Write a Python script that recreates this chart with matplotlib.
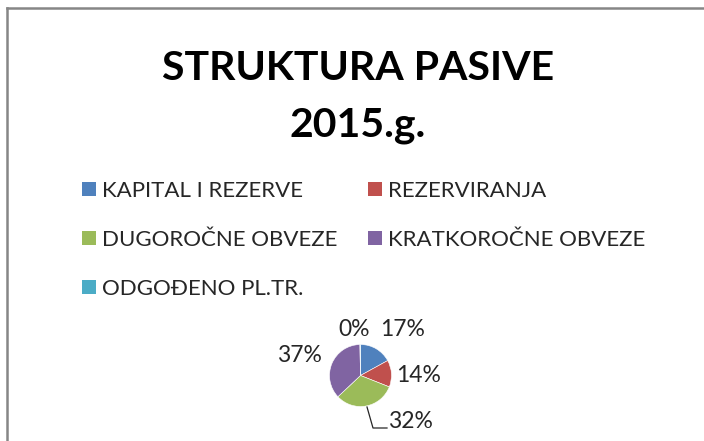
import matplotlib.pyplot as plt
import matplotlib.patches as mpatches
from matplotlib.lines import Line2D

categories = ["KAPITAL I REZERVE", "REZERVIRANJA", "DUGOROČNE OBVEZE",
              "KRATKOROČNE OBVEZE", "ODGOĐENO PL.TR."]
shares = [17.0, 14.0, 32.0, 36.7, 0.3]
colors = ["#4F81BD", "#C0504D", "#9BBB59", "#8064A2", "#4BACC6"]
title_lines = ["STRUKTURA PASIVE", "2015.g."]

plt.rcParams['font.family'] = ['Lato', 'DejaVu Sans']

W, H = 704, 441
fig = plt.figure(figsize=(W / 100, H / 100), dpi=100)

# chart border (top and left visible, cut at right/bottom)
fig.add_artist(Line2D([6.5 / W, 6.5 / W], [0, 1 - 8 / H], color="#868686", lw=1.8,
                      transform=fig.transFigure))
fig.add_artist(Line2D([6.5 / W, 1], [1 - 8 / H, 1 - 8 / H], color="#868686", lw=1.8,
                      transform=fig.transFigure))
# descender of text above the chart, cut at the top
fig.text(151 / W, 1 + 9 / H, "g", fontsize=15, ha="center", va="baseline", color="black")

# title, two lines
fig.text(358 / W, 1 - 80 / H, title_lines[0], fontsize=29.5, fontweight="bold",
         ha="center", va="baseline")
fig.text(358 / W, 1 - 136 / H, title_lines[1], fontsize=29.5, fontweight="bold",
         ha="center", va="baseline")

# pie
cx, cy, r = 360.5, 375.5, 31
ax = fig.add_axes([(cx - r) / W, 1 - (cy + r) / H, 2 * r / W, 2 * r / H])
wedges, _ = ax.pie(shares, colors=colors, startangle=90, counterclock=False,
                   wedgeprops=dict(edgecolor="white", linewidth=0.4))
ax.set_xlim(-1, 1)
ax.set_ylim(-1, 1)
ax.set_aspect("auto")
ax.axis("off")

# data labels (pixel positions)
label_pos = [(403, 329), (419, 376), (410, 422), (299, 356), (354, 329)]
for v, (px, py) in zip(shares, label_pos):
    fig.text(px / W, 1 - py / H, f"{round(v):.0f}%", fontsize=16.5, ha="center",
             va="center", color="#262626")
# leader line for 32%
fig.add_artist(Line2D([367 / W, 373 / W, 387 / W],
                      [1 - 407 / H, 1 - 428 / H, 1 - 428 / H],
                      color="#262626", lw=0.9, transform=fig.transFigure))

# legend in row-major order
order = [0, 2, 4, 1, 3]
handles = [mpatches.Patch(facecolor=colors[i], edgecolor="none") for i in order]
labels = [categories[i] for i in order]
fig.legend(handles, labels, ncol=2, loc="upper left",
           bbox_to_anchor=(82 / W, 1 - 181 / H), frameon=False, fontsize=16,
           handlelength=0.65, handleheight=0.6, handletextpad=0.27,
           columnspacing=1.35, labelspacing=1.3, borderaxespad=0, borderpad=0,
           labelcolor="#262626")

fig.savefig("out.png", dpi=100)
